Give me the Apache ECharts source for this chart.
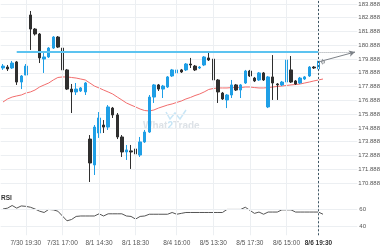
<!DOCTYPE html>
<html><head><meta charset="utf-8">
<script src="https://cdn.jsdelivr.net/npm/echarts@6/dist/echarts.min.js"></script>
<style>html,body{margin:0;padding:0;background:#fff}#c{width:380px;height:250px}</style>
</head><body><div id="c"></div>
<script>
// candles: [open, close, low, high]
const candles = [
[179.24,179.38,179.10,179.53],[179.31,179.17,179.02,179.46],[179.24,179.60,179.17,179.75],[179.68,178.22,178.01,179.75],
[178.22,178.66,177.71,178.73],[178.73,179.38,178.73,179.53],[183.09,182.07,180.55,183.38],[182.07,181.71,181.60,182.14],
[181.71,179.97,179.60,181.78],[179.89,180.04,178.88,180.33],[180.04,180.69,179.97,180.76],[180.69,181.49,180.62,181.56],
[181.49,180.76,180.69,181.56],[180.69,179.10,179.02,180.76],[179.10,177.71,177.64,179.17],[177.71,177.50,175.97,178.08],
[177.50,177.71,177.28,178.15],[177.57,177.79,177.50,177.86],[177.50,178.15,177.28,178.22],[174.08,172.34,170.96,174.37],
[172.20,174.95,171.47,175.10],[174.52,175.61,174.16,176.04],[175.10,174.95,174.52,175.46],[174.95,176.41,174.74,176.55],
[176.33,175.83,175.61,176.41],[175.83,174.23,174.08,175.97],[174.23,173.14,172.78,174.37],[173.14,173.29,172.56,173.65],
[173.22,173.14,171.91,173.65],[173.36,173.00,172.78,174.16],[172.92,173.87,172.78,174.23],[173.87,174.59,173.80,174.74],
[174.59,177.13,174.52,177.28],[177.13,178.01,176.70,178.08],[178.01,177.71,177.57,178.08],[177.71,177.93,177.06,178.01],
[177.86,178.59,177.79,178.66],[178.66,179.10,178.59,179.17],[178.88,179.10,178.80,179.17],[179.10,178.95,178.88,179.17],
[179.10,179.53,179.02,179.60],[179.53,179.46,179.24,179.97],[179.38,179.10,179.02,179.46],[179.24,179.31,179.17,179.38],
[179.46,180.04,179.38,180.11],[179.97,179.82,179.75,180.40],[179.89,178.37,178.30,179.97],[178.37,177.50,176.70,178.44],
[177.42,176.99,176.92,177.50],[176.92,177.28,176.33,177.35],[177.28,178.01,177.06,178.37],[178.01,177.64,177.57,178.08],
[177.64,178.01,177.06,178.08],[178.15,179.02,178.08,179.10],[179.02,178.66,178.59,179.10],[178.51,178.30,178.22,178.59],
[178.37,178.88,178.30,178.95],[178.88,178.37,178.30,178.95],[176.41,178.59,176.33,178.66],[178.59,178.15,176.92,180.18],
[178.08,178.01,176.92,178.15],[178.01,178.22,177.93,178.30],[178.22,179.82,178.15,179.89],[179.10,178.22,178.15,180.11],
[178.30,178.08,178.01,178.37],[178.15,178.51,178.08,178.59],[178.44,178.59,178.37,178.66],[178.66,179.31,178.59,179.38],
[179.31,179.24,179.17,179.38],[179.17,179.75,179.10,179.82]
];
const maValues = [176.77,176.99,177.13,177.21,177.28,177.42,177.50,177.64,177.86,178.01,178.15,178.37,178.55,178.59,178.59,178.55,
178.51,178.44,178.37,178.15,177.93,177.79,177.64,177.50,177.35,177.13,176.92,176.70,176.55,176.41,176.26,176.15,176.12,176.19,
176.33,176.44,176.55,176.63,176.74,176.84,176.99,177.10,177.24,177.35,177.50,177.68,177.75,177.79,177.79,177.79,177.82,177.82,
177.82,177.86,177.86,177.82,177.79,177.79,177.82,177.86,177.90,177.93,177.97,178.01,178.04,178.08,178.15,178.22,178.30,178.37,178.44];
const rsiValues = [60,61,64,61,63.5,63,62,60,57.5,56,59.5,59,57.5,52,46.5,48,51.5,52,52,52,52,54.5,52,54.5,54.5,54.5,54.5,52,51.5,48.5,
51.5,52,54,54,54,54,54,56,54,55,56,56,56,56,56,56,56,56,56,59.5,59.5,59.5,59.5,62,58.5,55,56.5,54,56.5,56.5,56.5,59,59,59,
56.5,56.5,56.5,56.5,56.5,56.5,54];
const resistance = 180.40;
const resistanceStart = 3;
const lastIndex = 69;
const forecastCandle = [179.60, 179.75, 179.50, 179.90];
const forecastFrom = 179.68;
const forecastEnd = 77;
const totalSlots = 78;
const xLabelIndex = [5, 13, 21, 29, 38, 46, 54, 62, 69];
const xLabelText = ['7/30 19:30','7/31 17:00','8/1 14:30','8/1 18:30','8/4 16:00','8/5 13:30','8/5 17:30','8/6 15:00','8/6 19:30'];
const yMin = 170.888, yMax = 184.888, yStep = 1;
const rsiMin = 30, rsiMax = 89.7, rsiStep = 10;
const rsiTickLabels = [40, 60];

const categories = Array.from({length: totalSlots}, (_, i) => String(i));
const labelMap = {};
xLabelIndex.forEach((k, j) => labelMap[k] = xLabelText[j]);
const FONT = 'Liberation Sans, Arial, sans-serif';
const forecastData = categories.map((c, i) => i === lastIndex + 1 ? forecastCandle : '-');
const vGrid = xLabelIndex.map(i => ({xAxis: i}));

const chart = echarts.init(document.getElementById('c'), null, {renderer: 'canvas'});
chart.setOption({
  animation: false,
  backgroundColor: '#fff',
  grid: [
    {left: 0.71, right: 22.7, top: -9.77, height: 192.77, containLabel: false, outerBoundsMode: 'none'},
    {left: 0.71, right: 22.7, top: 183, height: 52.25, containLabel: false, outerBoundsMode: 'none'}
  ],
  xAxis: [
    {type: 'category', gridIndex: 0, data: categories, boundaryGap: true,
     axisLine: {show: false}, axisTick: {show: false}, axisLabel: {show: false}, splitLine: {show: false}},
    {type: 'category', gridIndex: 1, data: categories, boundaryGap: true,
     axisLine: {show: false}, axisTick: {show: false}, splitLine: {show: false},
     axisLabel: {interval: 0, margin: 4, fontSize: 6.5, color: '#555', fontFamily: FONT, hideOverlap: false,
       formatter: (v, i) => labelMap[i] === undefined ? '' : (i === lastIndex ? '{b|' + labelMap[i] + '}' : labelMap[i]),
       rich: {b: {fontWeight: 'bold', fontSize: 6.5, color: '#333', fontFamily: FONT}}}}
  ],
  yAxis: [
    {type: 'value', gridIndex: 0, position: 'right', min: yMin, max: yMax, interval: yStep,
     axisLine: {show: false}, axisTick: {show: false}, showMaxLabel: false,
     axisLabel: {margin: 1, fontSize: 6, color: '#555', fontFamily: FONT,
       formatter: v => (Math.round(v - 0.888) + 0.888).toFixed(3)},
     splitLine: {show: true, lineStyle: {color: '#eceff2', width: 1}}},
    {type: 'value', gridIndex: 1, position: 'right', min: rsiMin, max: rsiMax, interval: rsiStep,
     axisLine: {show: false}, axisTick: {show: false}, splitLine: {show: false},
     axisLabel: {margin: 2, fontSize: 6, color: '#555', fontFamily: FONT,
       formatter: v => rsiTickLabels.indexOf(Math.round(v)) >= 0 && Math.abs(v - Math.round(v)) < 1e-6 ? String(Math.round(v)) : ''}}
  ],
  graphic: [
    {type: 'polyline', silent: true, z: 0, shape: {points: [[166,112],[170,119],[175,113],[180,119],[186,110]]},
     style: {stroke: '#c9e6f6', lineWidth: 1.5, fill: null}},
    {type: 'text', silent: true, z: 0, left: 143, top: 121,
     style: {text: '{a|What}{b|2}{a|Trade}', rich: {
       a: {fontSize: 10, fontWeight: 'bold', fill: '#dde2e7', fontFamily: FONT},
       b: {fontSize: 10, fontWeight: 'bold', fill: '#c5e4f5', fontFamily: FONT}}}},
    {type: 'text', silent: true, left: 1, top: 195,
     style: {text: 'RSI', fontSize: 6.5, fontWeight: 'bold', fill: '#333', fontFamily: FONT}}
  ],
  series: [
    {type: 'line', xAxisIndex: 0, yAxisIndex: 0, data: [], silent: true, z: 1,
     markLine: {silent: true, symbol: 'none', label: {show: false}, lineStyle: {color: '#eceff2', width: 1, type: 'solid'}, data: vGrid}},
    {type: 'line', xAxisIndex: 1, yAxisIndex: 1, data: [], silent: true, z: 1,
     markLine: {silent: true, symbol: 'none', label: {show: false}, lineStyle: {color: '#eceff2', width: 1, type: 'solid'},
       data: vGrid.concat(rsiTickLabels.map(v => ({yAxis: v})))}},
    {type: 'line', name: 'MA', xAxisIndex: 0, yAxisIndex: 0, data: maValues, symbol: 'none', z: 2,
     lineStyle: {color: '#f26d6d', width: 1}},
    {type: 'candlestick', xAxisIndex: 0, yAxisIndex: 0, data: candles, barWidth: 3, z: 3,
     itemStyle: {color: '#1f9fe6', color0: '#2f2f2f', borderColor: '#1f9fe6', borderColor0: '#2f2f2f', borderWidth: 1},
     markLine: {silent: true, symbol: 'none', label: {show: false}, data: [
       [{coord: [resistanceStart, resistance], lineStyle: {color: '#5cc3f0', width: 2, type: 'solid'}}, {coord: [lastIndex, resistance]}],
       [{coord: [lastIndex, resistance], lineStyle: {color: '#9aa0a6', width: 1, type: 'dotted'}}, {coord: [forecastEnd, resistance]}],
       [{coord: [lastIndex, forecastFrom], symbol: 'none', lineStyle: {color: '#7d8288', width: 1, type: 'solid'}},
        {coord: [forecastEnd, resistance], symbol: 'arrow', symbolSize: [5, 6]}],
       {xAxis: lastIndex, lineStyle: {color: '#3f5663', width: 1, type: [2, 2]}}
     ]}},
    {type: 'candlestick', xAxisIndex: 0, yAxisIndex: 0, data: forecastData, barWidth: 3, z: 3,
     itemStyle: {color: '#ffffff', color0: '#ffffff', borderColor: '#a0a4a8', borderColor0: '#a0a4a8', borderWidth: 1}},
    {type: 'line', name: 'RSI', xAxisIndex: 1, yAxisIndex: 1, data: rsiValues, symbol: 'none', z: 2,
     lineStyle: {color: '#555', width: 1},
     markLine: {silent: true, symbol: 'none', label: {show: false},
       lineStyle: {color: '#3f5663', width: 1, type: [2, 2]}, data: [{xAxis: lastIndex}]}}
  ]
});
</script></body></html>
